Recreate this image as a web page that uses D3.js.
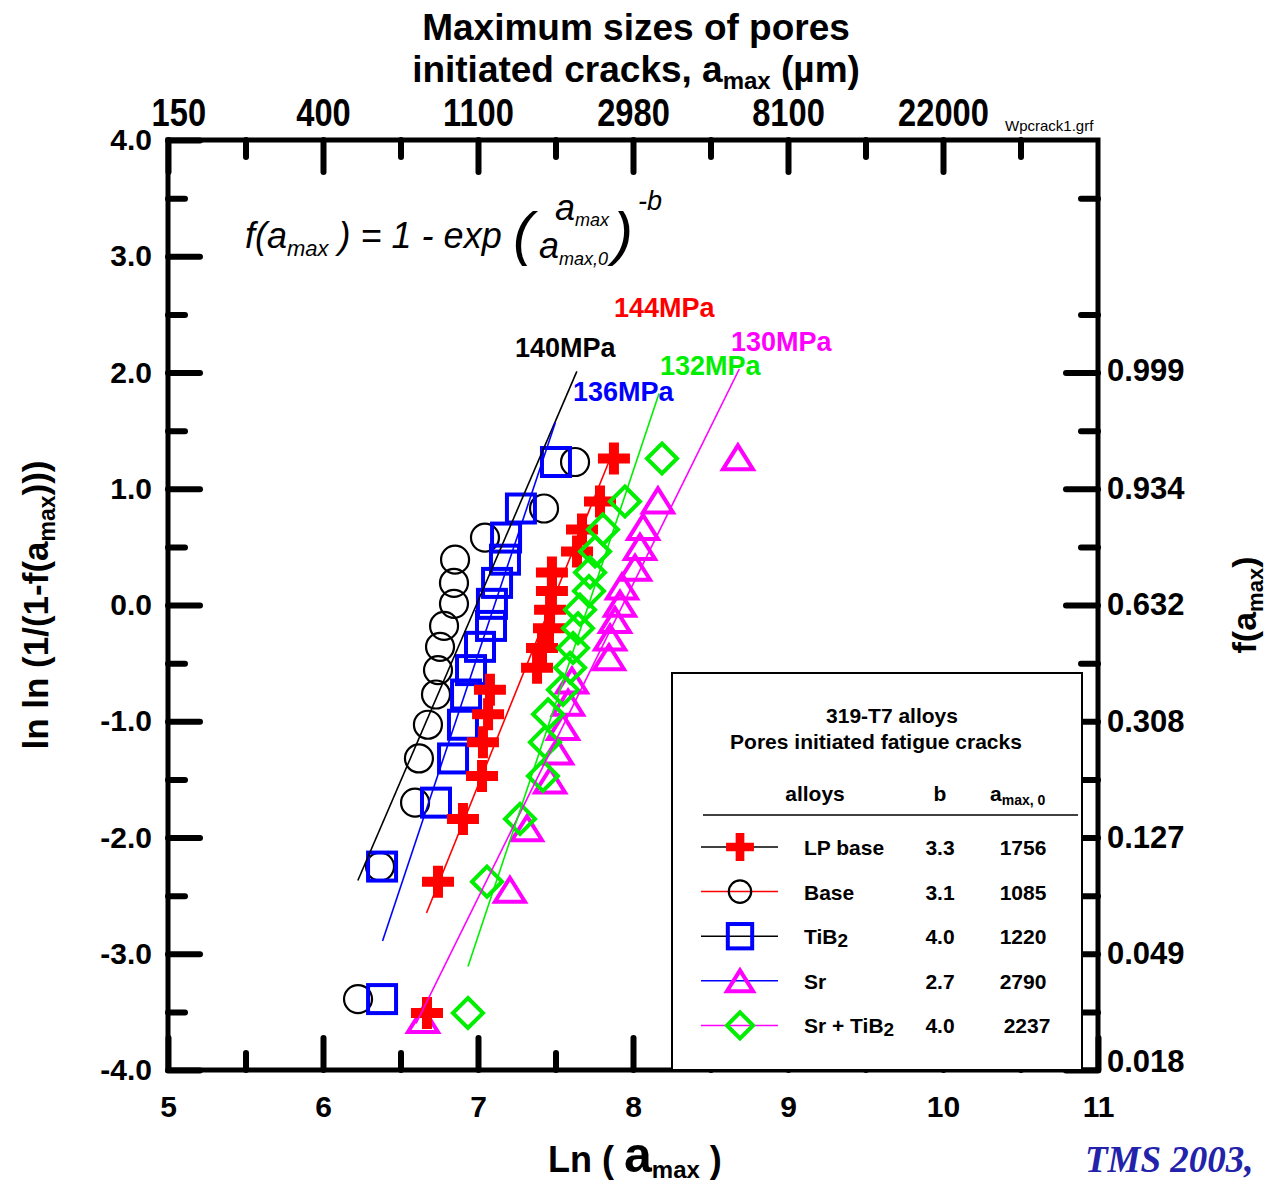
<!DOCTYPE html>
<html>
<head>
<meta charset="utf-8">
<script src="https://cdn.jsdelivr.net/npm/d3@7"></script>
<style>
  body { margin: 0; background: #fff; overflow: hidden; }
  text { font-family: "Liberation Sans", Arial, sans-serif; }
</style>
</head>
<body>
<div id="chart"></div>
<script>
// ---- axis ticks / labels
const xMajor = [5, 6, 7, 8, 9, 10, 11];
const xMinor = [5.5, 6.5, 7.5, 8.5, 9.5, 10.5];
const yMajor = [-4, -3, -2, -1, 0, 1, 2, 3, 4];
const yMinor = [-3.5, -2.5, -1.5, -0.5, 0.5, 1.5, 2.5, 3.5];
const topLabels = ["150", "400", "1100", "2980", "8100", "22000"];
const topTicks = [5, 6, 7, 8, 9, 10];
const rightLabels = ["0.018", "0.049", "0.127", "0.308", "0.632", "0.934", "0.999"];
const rightTicks = [-4, -3, -2, -1, 0, 1, 2];

// ---- legend table
const alloys = ["LP base", "Base", "TiB2", "Sr", "Sr + TiB2"];
const bValues = ["3.3", "3.1", "4.0", "2.7", "4.0"];
const a0Values = ["1756", "1085", "1220", "2790", "2237"];
const stressLabels = ["144MPa", "140MPa", "136MPa", "130MPa", "132MPa"];

// ---- data points: ln(a_max), ln ln(1/(1-f))
const lpBaseX = [6.671, 6.742, 6.903, 7.026, 7.032, 7.065, 7.077, 7.381, 7.413, 7.458, 7.465, 7.477, 7.477, 7.639, 7.671, 7.787, 7.877];
const lpBaseY = [-3.51, -2.38, -1.84, -1.47, -1.18, -0.94, -0.73, -0.54, -0.37, -0.20, -0.04, 0.12, 0.28, 0.46, 0.65, 0.89, 1.26];
const baseX = [6.226, 6.368, 6.594, 6.619, 6.677, 6.729, 6.742, 6.755, 6.781, 6.845, 6.845, 6.852, 7.045, 7.426, 7.626];
const baseY = [-3.39, -2.25, -1.70, -1.32, -1.03, -0.77, -0.56, -0.36, -0.18, 0.01, 0.19, 0.39, 0.58, 0.83, 1.23];
const tib2X = [6.381, 6.381, 6.729, 6.839, 6.903, 6.923, 6.955, 7.013, 7.084, 7.090, 7.123, 7.174, 7.181, 7.277, 7.503];
const tib2Y = [-3.39, -2.25, -1.70, -1.32, -1.03, -0.77, -0.56, -0.36, -0.18, 0.01, 0.19, 0.39, 0.58, 0.83, 1.23];
const srX = [6.645, 7.206, 7.316, 7.465, 7.510, 7.548, 7.581, 7.606, 7.845, 7.852, 7.884, 7.916, 7.929, 8.013, 8.045, 8.065, 8.161, 8.677];
const srY = [-3.57, -2.45, -1.92, -1.51, -1.26, -1.05, -0.84, -0.65, -0.45, -0.28, -0.13, 0.01, 0.16, 0.32, 0.50, 0.67, 0.90, 1.27];
const srTib2X = [6.935, 7.058, 7.271, 7.419, 7.432, 7.452, 7.548, 7.594, 7.613, 7.645, 7.658, 7.716, 7.723, 7.755, 7.806, 7.948, 8.187];
const srTib2Y = [-3.51, -2.38, -1.84, -1.47, -1.18, -0.94, -0.73, -0.54, -0.37, -0.20, -0.04, 0.12, 0.28, 0.46, 0.65, 0.89, 1.26];

// y extent of each fitted Weibull line (same order as alloys)
const fitRanges = [[-2.65, 1.25], [-2.37, 2.01], [-2.89, 1.57], [-3.6, 2.03], [-3.11, 1.82]];

const W = 1268, H = 1183;
const margin = {left: 168, top: 140, right: 170, bottom: 113};

const series = [
  {xs: lpBaseX, ys: lpBaseY, marker: "cross", color: "#ff0000", lineColor: "#ff0000", legendLine: "#000000", label: [614, 317]},
  {xs: baseX, ys: baseY, marker: "circle", color: "#000000", lineColor: "#000000", legendLine: "#ff0000", label: [515, 357]},
  {xs: tib2X, ys: tib2Y, marker: "square", color: "#0000ff", lineColor: "#0000ff", legendLine: "#000000", label: [573, 401]},
  {xs: srX, ys: srY, marker: "triangle", color: "#ff00ff", lineColor: "#ff00ff", legendLine: "#0000ff", label: [731, 351]},
  {xs: srTib2X, ys: srTib2Y, marker: "diamond", color: "#00ee00", lineColor: "#00ee00", legendLine: "#ff00ff", label: [660, 375]}
];

const svg = d3.select("#chart").append("svg")
  .attr("width", W)
  .attr("height", H);

const x = d3.scaleLinear().domain([5, 11]).range([margin.left, W - margin.right]);
const y = d3.scaleLinear().domain([-4, 4]).range([H - margin.bottom, margin.top]);

function drawMarker(g, type, cx, cy, color, k) {
  k = k || 1;
  if (type === "cross") {
    const w = 32 * k, t = 10 * k;
    g.append("path")
      .attr("d", `M${-w/2},${-t/2}H${-t/2}V${-w/2}H${t/2}V${-t/2}H${w/2}V${t/2}H${t/2}V${w/2}H${-t/2}V${t/2}H${-w/2}Z`)
      .attr("transform", `translate(${cx},${cy})`)
      .attr("fill", color);
  } else if (type === "circle") {
    g.append("circle")
      .attr("cx", cx).attr("cy", cy).attr("r", 14 * k)
      .attr("fill", "none").attr("stroke", color).attr("stroke-width", 2.2);
  } else if (type === "square") {
    const s = 28 * k;
    g.append("rect")
      .attr("x", cx - s / 2).attr("y", cy - s / 2).attr("width", s).attr("height", s)
      .attr("fill", "none").attr("stroke", color).attr("stroke-width", 4);
  } else if (type === "triangle") {
    const w = 30 * k, h = 24 * k;
    g.append("path")
      .attr("d", `M0,${-h/2}L${w/2},${h/2}L${-w/2},${h/2}Z`)
      .attr("transform", `translate(${cx},${cy})`)
      .attr("fill", "none").attr("stroke", color).attr("stroke-width", 4);
  } else if (type === "diamond") {
    const d = 15 * k;
    g.append("path")
      .attr("d", `M0,${-d}L${d},0L0,${d}L${-d},0Z`)
      .attr("transform", `translate(${cx},${cy})`)
      .attr("fill", "none").attr("stroke", color).attr("stroke-width", 4);
  }
}

function styleAxis(g, size) {
  g.select(".domain").remove();
  g.selectAll(".tick line")
    .attr("stroke", "#000")
    .attr("stroke-width", 6)
    .attr("stroke-linecap", "round");
  g.selectAll(".tick text")
    .attr("fill", "#000")
    .style("font-size", size + "px")
    .style("font-weight", "bold")
    .style("font-family", "'Liberation Sans', Arial, sans-serif");
}

const bottom = H - margin.bottom, right = W - margin.right;

// minor ticks
[d3.axisBottom(x), d3.axisTop(x)].forEach((ax, i) => {
  svg.append("g").attr("transform", `translate(0,${i ? margin.top : bottom})`)
    .call(ax.tickValues(xMinor).tickSizeInner(-17).tickSizeOuter(0).tickFormat(""))
    .call(g => styleAxis(g, 10));
});
[d3.axisLeft(y), d3.axisRight(y)].forEach((ax, i) => {
  svg.append("g").attr("transform", `translate(${i ? right : margin.left},0)`)
    .call(ax.tickValues(yMinor).tickSizeInner(-17).tickSizeOuter(0).tickFormat(""))
    .call(g => styleAxis(g, 10));
});

// major ticks with labels
svg.append("g").attr("transform", `translate(0,${bottom})`)
  .call(d3.axisBottom(x).tickValues(xMajor).tickSizeInner(-32).tickSizeOuter(0).tickPadding(26).tickFormat(d => String(d)))
  .call(g => styleAxis(g, 30));

svg.append("g").attr("transform", `translate(0,${margin.top})`)
  .call(d3.axisTop(x).tickValues(topTicks).tickSizeInner(-32).tickSizeOuter(0).tickPadding(14)
    .tickFormat((d, i) => topLabels[i]))
  .call(g => styleAxis(g, 38))
  .call(g => g.selectAll(".tick text").attr("transform", "scale(0.86,1)"))
  .call(g => g.selectAll(".tick").filter((d, i) => i === 0).select("text").attr("dx", 12));

svg.append("g").attr("transform", `translate(${margin.left},0)`)
  .call(d3.axisLeft(y).tickValues(yMajor).tickSizeInner(-32).tickSizeOuter(0).tickPadding(16).tickFormat(d => d.toFixed(1)))
  .call(g => styleAxis(g, 30));

svg.append("g").attr("transform", `translate(${right},0)`)
  .call(d3.axisRight(y).tickValues(rightTicks).tickSizeInner(-32).tickSizeOuter(0).tickPadding(9)
    .tickFormat((d, i) => rightLabels[i]))
  .call(g => styleAxis(g, 31))
  .call(g => g.selectAll(".tick").filter((d, i) => i === 0).select("text").attr("y", -8))
  .call(g => g.selectAll(".tick").filter((d, i) => i === rightTicks.length - 1).select("text").attr("y", -2));

// frame
svg.append("rect")
  .attr("x", margin.left).attr("y", margin.top)
  .attr("width", right - margin.left).attr("height", bottom - margin.top)
  .attr("fill", "none").attr("stroke", "#000").attr("stroke-width", 5);

// legend box (drawn under the data)
const legend = svg.append("g");
legend.append("rect")
  .attr("x", 672).attr("y", 673).attr("width", 410).attr("height", bottom - 673)
  .attr("fill", "#fff").attr("stroke", "#000").attr("stroke-width", 2);

// markers
const order = [1, 2, 3, 0, 4];
const plot = svg.append("g");
order.forEach(si => {
  const s = series[si];
  s.xs.forEach((v, i) => drawMarker(plot, s.marker, x(v), y(s.ys[i]), s.color));
});

// fitted lines: ln ln(1/(1-f)) = b (ln a - ln a0)
series.forEach((s, si) => {
  const b = +bValues[si], la0 = Math.log(+a0Values[si]);
  const [y0, y1] = fitRanges[si];
  plot.append("line")
    .attr("x1", x(la0 + y0 / b)).attr("y1", y(y0))
    .attr("x2", x(la0 + y1 / b)).attr("y2", y(y1))
    .attr("stroke", s.lineColor).attr("stroke-width", 1.6);
  svg.append("text")
    .attr("x", s.label[0]).attr("y", s.label[1])
    .attr("fill", s.lineColor)
    .style("font-size", "27px").style("font-weight", "bold")
    .text(stressLabels[si]);
});

// legend contents
legend.append("text").attr("x", 892).attr("y", 723).attr("text-anchor", "middle")
  .style("font-size", "21px").style("font-weight", "bold").text("319-T7 alloys");
legend.append("text").attr("x", 876).attr("y", 749).attr("text-anchor", "middle")
  .style("font-size", "21px").style("font-weight", "bold").text("Pores initiated fatigue cracks");
legend.append("text").attr("x", 815).attr("y", 801).attr("text-anchor", "middle")
  .style("font-size", "21px").style("font-weight", "bold").text("alloys");
legend.append("text").attr("x", 940).attr("y", 801).attr("text-anchor", "middle")
  .style("font-size", "21px").style("font-weight", "bold").text("b");
const ah = legend.append("text").attr("x", 990).attr("y", 801)
  .style("font-size", "21px").style("font-weight", "bold");
ah.append("tspan").text("a");
ah.append("tspan").attr("dy", 4).style("font-size", "14px").text("max, 0");
legend.append("line").attr("x1", 703).attr("x2", 1078).attr("y1", 815).attr("y2", 815)
  .attr("stroke", "#000").attr("stroke-width", 1.5);

series.forEach((s, si) => {
  const cy = 847 + si * 44.6;
  legend.append("line").attr("x1", 701).attr("x2", 778).attr("y1", cy).attr("y2", cy)
    .attr("stroke", s.legendLine).attr("stroke-width", 1.5);
  drawMarker(legend, s.marker, 740, cy, s.color, s.marker === "circle" ? 0.8 : 0.87);
  const t = legend.append("text").attr("x", 804).attr("y", cy + 8)
    .style("font-size", "21px").style("font-weight", "bold");
  const name = alloys[si];
  if (name.endsWith("TiB2")) {
    t.append("tspan").text(name.slice(0, -1));
    t.append("tspan").attr("dy", 3).style("font-size", "19px").text("2");
  } else {
    t.text(name);
  }
  legend.append("text").attr("x", 940).attr("y", cy + 8).attr("text-anchor", "middle")
    .style("font-size", "21px").style("font-weight", "bold").text(bValues[si]);
  legend.append("text").attr("x", si === 4 ? 1027 : 1023).attr("y", cy + 8).attr("text-anchor", "middle")
    .style("font-size", "21px").style("font-weight", "bold").text(a0Values[si]);
});

// titles
svg.append("text").attr("x", 636).attr("y", 40).attr("text-anchor", "middle")
  .style("font-size", "37px").style("font-weight", "bold").text("Maximum sizes of pores");
const t2 = svg.append("text").attr("x", 636).attr("y", 82).attr("text-anchor", "middle")
  .style("font-size", "37px").style("font-weight", "bold");
t2.append("tspan").text("initiated cracks, a");
t2.append("tspan").attr("dy", 7).style("font-size", "24px").text("max");
t2.append("tspan").attr("dy", -7).text(" (µm)");

const xt = svg.append("text").attr("x", 548).attr("y", 1172)
  .style("font-size", "36px").style("font-weight", "bold");
xt.append("tspan").text("Ln ( ");
xt.append("tspan").style("font-size", "50px").text("a");
xt.append("tspan").attr("dy", 6).style("font-size", "24px").text("max");
xt.append("tspan").attr("dy", -6).text(" )");

const yt = svg.append("text").attr("transform", "translate(48,605) rotate(-90)")
  .attr("text-anchor", "middle").style("font-size", "35px").style("font-weight", "bold");
yt.append("tspan").text("ln ln (1/(1-f(a");
yt.append("tspan").attr("dy", 7).style("font-size", "23px").text("max");
yt.append("tspan").attr("dy", -7).text(")))");

const rt = svg.append("text").attr("transform", "translate(1256,605) rotate(-90)")
  .attr("text-anchor", "middle").style("font-size", "34px").style("font-weight", "bold");
rt.append("tspan").text("f(a");
rt.append("tspan").attr("dy", 7).style("font-size", "22px").text("max");
rt.append("tspan").attr("dy", -7).text(")");

svg.append("text").attr("x", 1005).attr("y", 131)
  .style("font-size", "15px").text("Wpcrack1.grf");

// formula
const fz = svg.append("g").style("font-style", "italic");
const f1 = fz.append("text").attr("x", 245).attr("y", 248).style("font-size", "36px");
f1.append("tspan").text("f(a");
f1.append("tspan").attr("dy", 8).style("font-size", "22px").text("max");
f1.append("tspan").attr("dy", -8).text(" ) = 1 - exp");
fz.append("text").attr("x", 513).attr("y", 254).style("font-size", "60px").text("(");
const fn = fz.append("text").attr("x", 555).attr("y", 220).style("font-size", "36px");
fn.append("tspan").text("a");
fn.append("tspan").attr("dy", 6).style("font-size", "18px").text("max");
const fd = fz.append("text").attr("x", 539).attr("y", 258).style("font-size", "36px");
fd.append("tspan").text("a");
fd.append("tspan").attr("dy", 7).style("font-size", "18px").text("max,0");
fz.append("text").attr("x", 613).attr("y", 254).style("font-size", "60px").text(")");
fz.append("text").attr("x", 638).attr("y", 210).style("font-size", "27px").text("-b");

svg.append("text").attr("x", 1085).attr("y", 1172)
  .style("font-family", "'Liberation Serif', 'Times New Roman', serif")
  .style("font-style", "italic").style("font-weight", "bold")
  .style("font-size", "37px").attr("fill", "#2222aa")
  .text("TMS 2003,");
</script>
</body>
</html>
